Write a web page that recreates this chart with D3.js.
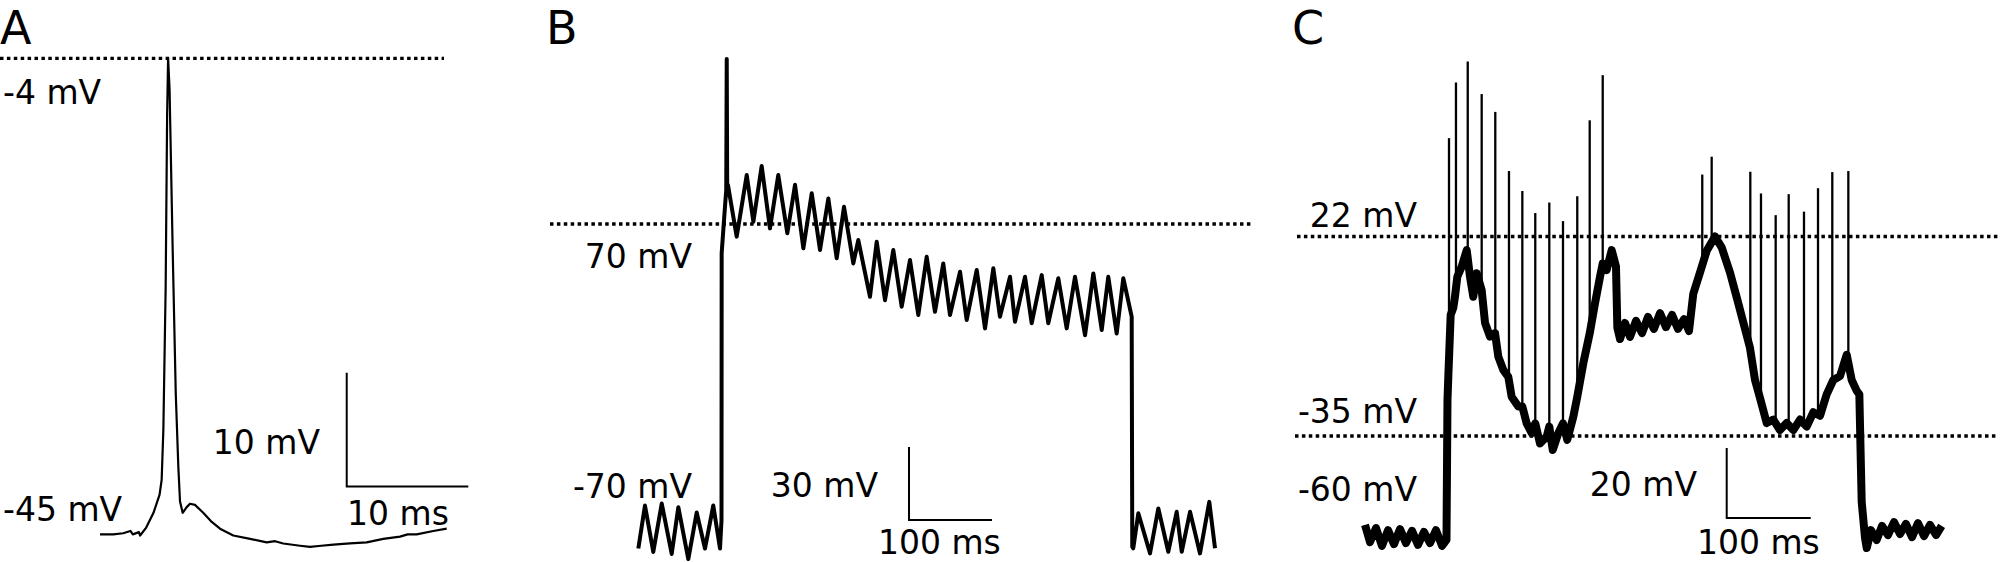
<!DOCTYPE html>
<html>
<head>
<meta charset="utf-8">
<script src="https://cdn.jsdelivr.net/npm/d3@7"></script>
<style>
body{margin:0;background:#fff}
svg{display:block}
text{font-family:"DejaVu Sans",sans-serif;fill:#000}
</style>
</head>
<body>
<div id="graph"></div>
<script>
"use strict"
var panelNames=['A','B','C']

// panel A: one action potential, [ms, mV]
var traceA=[[0,-45.9],[1.1,-45.9],[1.9,-45.8],[2.5,-45.6],[2.7,-45.9],[3.2,-45.7],[3.3,-46.0],[3.8,-45.3],[4.4,-44.0],[4.9,-42.4],[5.07,-41.1],[5.21,-36.7],[5.40,-24.1],[5.52,-9],[5.6,-4.0],[5.72,-6.7],[5.98,-21.0],[6.23,-33.5],[6.44,-39.9],[6.58,-43.0],[6.80,-44.0],[7.13,-43.5],[7.40,-43.2],[7.81,-43.3],[8.49,-44.0],[9.19,-44.8],[9.87,-45.4],[10.96,-46.0],[12.34,-46.3],[13.71,-46.6],[14.4,-46.5],[15.07,-46.7],[16.45,-46.9],[17.27,-47.0],[18.2,-46.9],[19.19,-46.8],[20.56,-46.7],[21.93,-46.6],[23.30,-46.3],[24.67,-46.1],[25.3,-45.9],[26.04,-45.9],[27.41,-45.6],[28.51,-45.4]]
var refLinesA=[-4]
var labelsA=['-4 mV','-45 mV']
var barA=[10,10] // mV, ms

// panel B: depolarising step with oscillations, [ms, mV]
var traceB=[[0.4,-63.4],[8.4,-45.7],[18.4,-64.8],[28.6,-44.9],[40.6,-65.6],[48.6,-46.4],[60.6,-67.7],[70.7,-48.6],[80.7,-63.4],[90.7,-45.7],[98.8,-63.4],[100.6,-51.7],[100.8,58.0],[104.8,77.1],[106.3,83.9],[106.9,137.8],[107.5,83.9],[108.4,86.0],[118.9,64.8],[131.0,90.1],[139.0,70.9],[149.0,93.8],[159.0,68.2],[169.0,90.1],[179.9,66.2],[189.2,86.1],[199.2,60.0],[209.3,82.6],[219.3,59.3],[229.3,80.5],[239.4,55.9],[248.2,77.1],[259.4,53.8],[265.4,63.4],[279.5,40.1],[287.6,62.7],[297.6,38.7],[307.6,59.3],[317.7,36.0],[327.7,55.2],[337.7,32.6],[347.8,56.5],[357.8,33.9],[367.8,53.8],[375.9,32.6],[388.0,50.4],[396.0,30.5],[408.1,51.1],[418.1,27.1],[428.1,51.8],[436.1,31.9],[448.2,48.3],[454.2,29.8],[466.3,48.3],[474.3,29.2],[486.4,49.0],[494.3,29.2],[506.4,47.7],[516.5,27.1],[526.5,48.3],[538.6,24.3],[548.6,49.7],[558.7,26.4],[566.6,48.3],[576.7,25.0],[584.7,47.7],[594.8,31.9],[595.5,-62.7],[596.7,-63.3],[602.8,-48.9],[616.9,-65.4],[626.9,-46.9],[638.9,-64.7],[649.0,-48.3],[655.1,-64.7],[665.1,-48.3],[677.1,-65.4],[688.3,-44.2],[695.2,-63.3]]
var refLinesB=[70]
var labelsB=['70 mV','-70 mV']
var barB=[30,100]

// panel C: bursting, slow envelope [ms, mV] and spike peaks [ms, mV]
var traceC=[[0,-60.4],[6.0,-65.3],[13.1,-61.3],[20.2,-66.4],[27.4,-61.9],[34.5,-65.9],[41.7,-61.6],[48.8,-65.6],[56.0,-62.1],[63.1,-66.1],[70.2,-62.4],[77.4,-65.6],[84.5,-61.9],[91.7,-66.4],[97.0,-64.7],[98.2,-24.7],[99.2,-17.9],[102.0,-0.4],[105.1,1.6],[107.1,4.8],[109.9,10.5],[115.1,13.4],[121.1,18.1],[125.0,10.5],[128.9,4.8],[133.0,11.5],[138.9,6.7],[142.9,-2.7],[148.8,-6.6],[154.8,-5.6],[158.7,-12.3],[164.6,-16.1],[170.6,-18.1],[174.6,-23.8],[182.5,-26.6],[187.3,-26.6],[192.5,-31.4],[198.5,-34.2],[202.7,-31.4],[208.3,-37.1],[216.3,-35.2],[219.4,-32.3],[223.5,-39.0],[230.1,-34.2],[235.7,-31.4],[240.8,-36.1],[248.0,-29.5],[252.7,-23.8],[259.9,-14.2],[267.5,-5.7],[273.8,2.9],[279.8,10.5],[283.0,14.3],[287.7,12.4],[293.7,18.1],[298.8,13.4],[300.4,-4.0],[303.6,-7.3],[309.5,-2.7],[315.5,-6.7],[322.6,-2.1],[329.8,-5.6],[336.9,-1.0],[344.0,-4.4],[351.2,0.1],[358.3,-3.9],[365.5,-0.4],[372.6,-4.4],[379.8,-1.6],[385.7,-5.0],[390.8,5.6],[398.8,11.7],[406.8,17.9],[416.7,22.0],[424.6,18.9],[434.5,11.7],[442.5,4.6],[450.4,-2.6],[458.3,-9.8],[464.3,-19.0],[470.2,-24.1],[478.2,-31.3],[486.1,-30.3],[494.0,-33.3],[502.0,-31.3],[509.9,-33.3],[517.9,-30.3],[525.8,-32.3],[533.7,-28.2],[541.7,-29.2],[549.6,-23.1],[557.5,-19.0],[565.5,-17.9],[573.5,-11.8],[579.4,-19.0],[585.4,-22.1],[588.5,-23.1],[591.3,-53.8],[595.2,-64.0],[597.3,-67.0],[602.4,-61.9],[609.2,-64.7],[615.5,-60.7],[622.6,-63.3],[629.8,-59.6],[636.9,-63.0],[644.0,-60.1],[651.2,-63.9],[658.3,-59.9],[665.5,-63.6],[672.6,-60.4],[679.8,-63.3],[686.5,-60.7]]
var spikesC=[[100.0,50.1],[108.3,66.0],[122.3,72.0],[138.9,62.7],[155.1,57.6],[171.4,40.7],[187.3,35.0],[202.7,28.7],[219.4,31.7],[235.7,26.4],[252.7,33.5],[267.5,55.2],[283.0,68.1],[401.5,39.7],[412.7,44.8],[458.7,40.5],[471.4,34.3],[488.9,28.1],[504.4,34.1],[522.6,29.1],[539.3,35.8],[556.3,40.4],[575.4,40.7]]
var refLinesC=[22,-35]
var labelsC=['22 mV','-35 mV','-60 mV']
var barC=[20,100]

var W=2000,H=562
var svg=d3.select('#graph').append('svg').attr('width',W).attr('height',H)

// scale for a panel: x0 px at 0 ms, px per ms, reference mV at yRef px, px per mV
function makeScales(x0,kx,vRef,yRef,ky){
  return {
    x:d3.scaleLinear().domain([0,100]).range([x0,x0+100*kx]),
    y:d3.scaleLinear().domain([vRef,vRef-100]).range([yRef,yRef+100*ky])
  }
}

function drawTrace(s,data,width){
  var line=d3.line().x(function(d){return s.x(d[0])}).y(function(d){return s.y(d[1])})
  svg.append('path').datum(data).attr('d',line).attr('fill','none').attr('stroke','#000')
    .attr('stroke-width',width).attr('stroke-linejoin','round')
}

function drawRef(s,v,x1,x2){
  svg.append('line').attr('x1',x1).attr('x2',x2).attr('y1',s.y(v)).attr('y2',s.y(v))
    .attr('stroke','#000').attr('stroke-width',3.3).attr('stroke-dasharray','3.5,3.4')
}

function drawBar(s,bar,t,v){
  var p=d3.path()
  p.moveTo(s.x(t),s.y(v+bar[0]))
  p.lineTo(s.x(t),s.y(v))
  p.lineTo(s.x(t+bar[1]),s.y(v))
  svg.append('path').attr('d',p.toString()).attr('fill','none').attr('stroke','#000').attr('stroke-width',2)
}

function label(txt,x,y,anchor,size){
  svg.append('text').attr('x',x).attr('y',y).attr('text-anchor',anchor||'start')
    .attr('font-size',size||33).text(txt)
}

// panel letters
label(panelNames[0],0,44,'start',46)
label(panelNames[1],546,44,'start',46)
label(panelNames[2],1292,44,'start',46)

// ---- A
var sA=makeScales(100,12.16,-4,58.4,11.36)
drawRef(sA,refLinesA[0],0,444)
drawTrace(sA,traceA,2.2)
drawBar(sA,barA,20.29,-41.68)
label(labelsA[0],3,104)
label(labelsA[1],3,521)
label(barA[0]+' mV',320,454,'end')
label(barA[1]+' ms',347,525)

// ---- B
var sB=makeScales(638,0.83,70,224,2.433)
drawRef(sB,refLinesB[0],550,1252)
drawTrace(sB,traceB,4)
drawBar(sB,barB,326.5,-51.7)
label(labelsB[0],692,268,'end')
label(labelsB[1],692,498,'end')
label(barB[0]+' mV',878,497,'end')
label(barB[1]+' ms',878,554)

// ---- C
var sC=makeScales(1365,0.84,-35,436,3.5)
drawRef(sC,refLinesC[0],1297,2000)
drawRef(sC,refLinesC[1],1295,1996)
drawTrace(sC,traceC,8)

// envelope value under a spike, for its foot
function envAt(t){
  for(var i=1;i<traceC.length;i++){
    if(traceC[i][0]>=t){
      var a=traceC[i-1],b=traceC[i],f=(t-a[0])/(b[0]-a[0])
      return a[1]+f*(b[1]-a[1])
    }
  }
  return traceC[traceC.length-1][1]
}
svg.selectAll('.spike').data(spikesC).enter().append('line').attr('class','spike')
  .attr('x1',function(d){return sC.x(d[0])}).attr('x2',function(d){return sC.x(d[0])})
  .attr('y1',function(d){return sC.y(envAt(d[0]))}).attr('y2',function(d){return sC.y(d[1])})
  .attr('stroke','#000').attr('stroke-width',2.3)

drawBar(sC,barC,430.6,-58.4)
label(labelsC[0],1417,227,'end')
label(labelsC[1],1417,423,'end')
label(labelsC[2],1417,501,'end')
label(barC[0]+' mV',1697,496,'end')
label(barC[1]+' ms',1697,554)
</script>
</body>
</html>
